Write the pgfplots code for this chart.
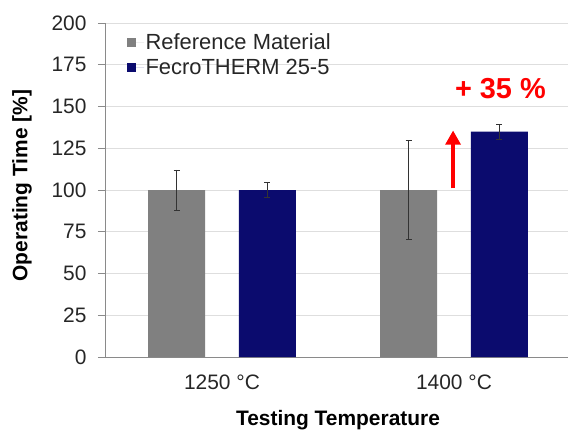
\documentclass[border=0pt]{standalone}
\usepackage{pgfplots}
\pgfplotsset{compat=1.18}
\usepackage{fontspec}
\setmainfont{Liberation Sans}
\definecolor{refgray}{HTML}{808080}
\definecolor{fecro}{HTML}{0B0B6E}
\definecolor{axgray}{HTML}{8A8A8A}
\definecolor{gridgray}{HTML}{DEDEDE}
\begin{document}
\begin{tikzpicture}
\begin{axis}[
  scale only axis,
  width=464bp, height=334bp,
  xmin=-0.5, xmax=1.5,
  ymin=0, ymax=200,
  ytick={0,25,...,200},
  xtick={0,1},
  xticklabels={1250 °C, 1400 °C},
  major x tick style={draw=none},
  extra x ticks={-0.5,0.5,1.5},
  extra x tick labels={},
  extra x tick style={major tick length=5bp, tick style={axgray, line width=0.8bp}},
  axis x line*=bottom,
  axis y line*=left,
  axis line style={axgray, line width=1bp},
  tick align=outside,
  major tick length=8bp,
  tick style={axgray, line width=0.8bp},
  ymajorgrids,
  grid style={gridgray, line width=0.8bp},
  /pgf/number format/assume math mode=true,
  tick label style={font=\fontsize{21}{25}\selectfont, text=black!85},
  yticklabel style={xshift=-8bp},
  xticklabel style={yshift=-6bp},
  ylabel={Operating Time [\%]},
  ylabel style={font=\bfseries\fontsize{21}{25}\selectfont, at={(axis description cs:-0.181,0.513)}, anchor=center},
  xlabel={Testing Temperature},
  xlabel style={font=\bfseries\fontsize{21}{25}\selectfont, at={(axis description cs:0.5,-0.19)}, anchor=center},
  legend style={draw=none, fill=none, at={(axis description cs:0.045,0.972)}, anchor=north west,
    font=\fontsize{22}{26}\selectfont, row sep=5bp, inner sep=0bp,
    nodes={inner sep=1.5bp, text=black!85}},
  legend cell align=left,
  legend image code/.code={\fill[#1] (0bp,-4.5bp) rectangle (9bp,4.5bp); \path (0bp,0bp) -- (17bp,0bp);},
]
\addplot[ybar, bar width=57bp, bar shift=0pt, fill=refgray, draw=none,
  error bars/.cd, y dir=both, y explicit,
  error bar style={black!80, line width=0.8bp},
  error mark options={rotate=90, mark size=3bp, black!80, line width=0.8bp}]
  coordinates {(-0.1961,100) +- (0,12) (0.8039,100) +- (0,29.5)};
\addlegendentry{Reference Material}
\addplot[ybar, bar width=57bp, bar shift=0pt, fill=fecro, draw=none,
  error bars/.cd, y dir=both, y explicit,
  error bar style={black!80, line width=0.8bp},
  error mark options={rotate=90, mark size=3bp, black!80, line width=0.8bp}]
  coordinates {(0.1961,100) +- (0,4.5) (1.1961,135) +- (0,4.5)};
\addlegendentry{FecroTHERM 25-5}
\draw[red, line width=4bp] (axis cs:0.996,101) -- (axis cs:0.996,129);
\fill[red] (axis cs:0.996,135.5) -- ++(-8bp,-14bp) -- ++(16bp,0bp) -- cycle;
\node[red, font=\bfseries\fontsize{29}{32}\selectfont] at (axis cs:1.2,161) {+ 35 \%};
\coordinate (ll) at (rel axis cs:0,0);
\coordinate (ur) at (rel axis cs:1,1);
\end{axis}
\pgfresetboundingbox
\path[use as bounding box] ([shift={(-106bp,-73bp)}]ll) rectangle ([shift={(-2bp,23bp)}]ur);
\end{tikzpicture}
\end{document}
